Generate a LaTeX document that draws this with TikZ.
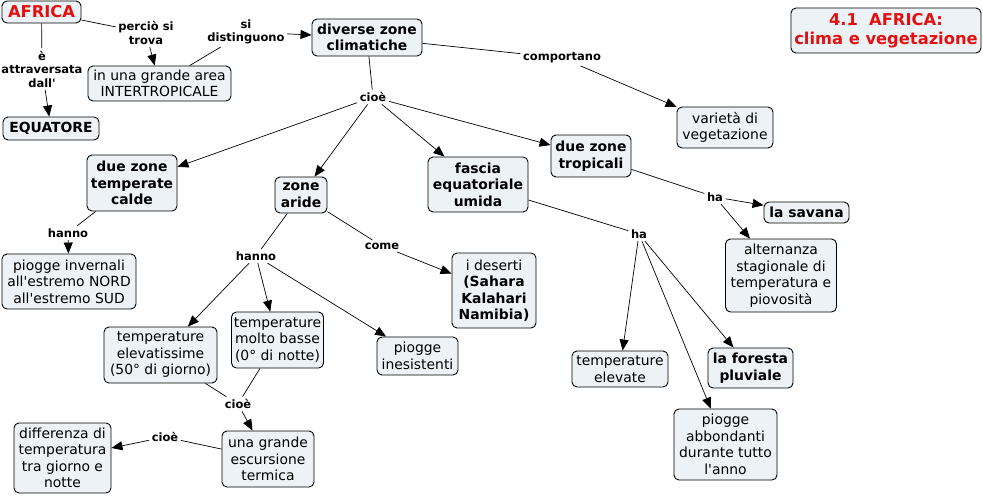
\documentclass[tikz,border=0pt]{standalone}
\usepackage{fontspec}
\setmainfont{DejaVu Sans}[Ligatures=TeXOff]
\usetikzlibrary{arrows.meta}
\definecolor{cfill}{RGB}{236,242,245}
\definecolor{cred}{RGB}{228,16,16}

\begin{document}
\begin{tikzpicture}[x=1pt,y=-1pt,
   concept/.style={draw=black,line width=0.9pt,fill=cfill,rounded corners=5pt,
      align=center,inner sep=2pt,font=\fontsize{13.9}{16.5}\selectfont},
   bconcept/.style={concept,font=\fontsize{13.9}{16.5}\selectfont\bfseries},
   rconcept/.style={concept,text=cred,font=\fontsize{16.3}{19}\selectfont\bfseries},
   linkword/.style={align=center,inner sep=2.5pt,font=\fontsize{11.5}{13.5}\selectfont\bfseries},
   link/.style={line width=0.7pt},
   arr/.style={link,-{Triangle[length=11pt,width=9pt]}}]
   % Page size
   \useasboundingbox (0,0) rectangle (983,496);
   % Concepts
   \node [rconcept,minimum width=79,minimum height=22] (africa) at (41.5,12) {AFRICA};
   \node [bconcept,minimum width=96,minimum height=23] (equatore) at (51,128.5) {EQUATORE};
   \node [concept,minimum width=143,minimum height=35] (area) at (159.5,83.5) {in una grande area\\INTERTROPICALE};
   \node [bconcept,minimum width=110,minimum height=37] (zone) at (367,37.5) {diverse zone\\climatiche};
   \node [rconcept,minimum width=190,minimum height=45] (title) at (886,30.5) {4.1~~AFRICA:\\clima e vegetazione};
   \node [concept,minimum width=96,minimum height=41] (varieta) at (725,127.5) {varietà di\\vegetazione};
   \node [bconcept,minimum width=90,minimum height=56] (temperate) at (132,183) {due zone\\temperate\\calde};
   \node [bconcept,minimum width=52,minimum height=36] (aride) at (301,195) {zone\\aride};
   \node [bconcept,minimum width=100,minimum height=55] (fascia) at (478,184.5) {fascia\\equatoriale\\umida};
   \node [bconcept,minimum width=80,minimum height=42] (tropicali) at (591,156) {due zone\\tropicali};
   \node [bconcept,minimum width=85,minimum height=21] (savana) at (806.5,212.5) {la savana};
   \node [concept,minimum width=111,minimum height=73] (alternanza) at (781,275.5) {alternanza\\stagionale di\\temperatura e\\piovosità};
   \node [concept,minimum width=134,minimum height=55] (invernali) at (69,281.5) {piogge invernali\\all'estremo NORD\\all'estremo SUD};
   \node [concept,minimum width=84,minimum height=75] (deserti) at (494,290.5) {i deserti\\\textbf{(Sahara}\\\textbf{Kalahari}\\\textbf{Namibia)}};
   \node [concept,minimum width=113,minimum height=56] (elevatissime) at (160.5,355) {temperature\\elevatissime\\(50° di giorno)};
   \node [concept,minimum width=92,minimum height=56] (basse) at (277.5,340) {temperature\\molto basse\\(0° di notte)};
   \node [concept,minimum width=81,minimum height=38] (inesistenti) at (417.5,356) {piogge\\inesistenti};
   \node [concept,minimum width=96,minimum height=36] (elevate) at (620,369) {temperature\\elevate};
   \node [bconcept,minimum width=85,minimum height=40] (foresta) at (750.5,368) {la foresta\\pluviale};
   \node [concept,minimum width=103,minimum height=71] (abbondanti) at (725.5,444.5) {piogge\\abbondanti\\durante tutto\\l'anno};
   \node [concept,minimum width=92,minimum height=56] (escursione) at (268,459) {una grande\\escursione\\termica};
   \node [concept,minimum width=97,minimum height=70] (differenza) at (62.5,458) {differenza di\\temperatura\\tra giorno e\\notte};
   % Linking words
   \node [linkword] (lattraversata) at (42,69) {è\\attraversata\\dall'};
   \node [linkword] (lpercio) at (146,33) {perciò si\\trova};
   \node [linkword] (ldistinguono) at (246,32) {si\\distinguono};
   \node [linkword] (lcomportano) at (562,58) {comportano};
   \node [linkword] (lcioe) at (373,97) {cioè};
   \node [linkword] (lhannoa) at (68,233) {hanno};
   \node [linkword] (lhannob) at (256,256) {hanno};
   \node [linkword] (lcome) at (382,246) {come};
   \node [linkword] (lhaa) at (715,197) {ha};
   \node [linkword] (lhab) at (639,234) {ha};
   \node [linkword] (lcioeb) at (238,404) {cioè};
   \node [linkword] (lcioec) at (165,437) {cioè};
   % Connections
   \draw [link] (africa) -- (lattraversata);
   \draw [arr] (lattraversata) -- (equatore);
   \draw [link] (africa) -- (lpercio);
   \draw [arr] (lpercio) -- (area);
   \draw [link] (area) -- (ldistinguono);
   \draw [arr] (ldistinguono) -- (zone);
   \draw [link] (zone) -- (lcomportano);
   \draw [arr] (lcomportano) -- (varieta);
   \draw [link] (zone) -- (lcioe);
   \draw [arr] (lcioe) -- (temperate);
   \draw [arr] (lcioe) -- (aride);
   \draw [arr] (lcioe) -- (fascia);
   \draw [arr] (lcioe) -- (tropicali);
   \draw [link] (temperate) -- (lhannoa);
   \draw [arr] (lhannoa) -- (invernali);
   \draw [link] (aride) -- (lhannob);
   \draw [arr] (lhannob) -- (elevatissime);
   \draw [arr] (lhannob) -- (basse);
   \draw [arr] (lhannob) -- (inesistenti);
   \draw [link] (aride) -- (lcome);
   \draw [arr] (lcome) -- (deserti);
   \draw [link] (tropicali) -- (lhaa);
   \draw [arr] (lhaa) -- (savana);
   \draw [arr] (lhaa) -- (alternanza);
   \draw [link] (fascia) -- (lhab);
   \draw [arr] (lhab) -- (elevate);
   \draw [arr] (lhab) -- (abbondanti);
   \draw [arr] (lhab) -- (foresta);
   \draw [link] (elevatissime) -- (lcioeb);
   \draw [link] (basse) -- (lcioeb);
   \draw [arr] (lcioeb) -- (escursione);
   \draw [link] (escursione) -- (lcioec);
   \draw [arr] (lcioec) -- (differenza);
\end{tikzpicture}
\end{document}
